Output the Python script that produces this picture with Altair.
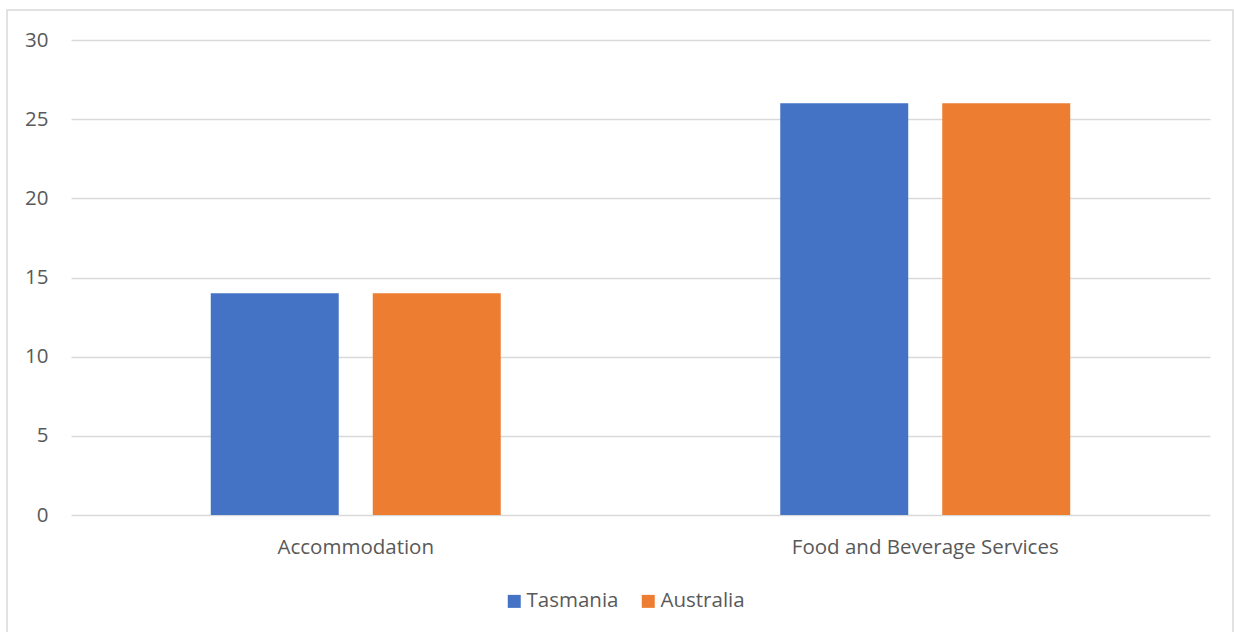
import altair as alt
import pandas as pd

categories = ["Accommodation", "Food and Beverage Services"]
regions = ["Tasmania", "Australia"]
tasmania = [14, 26]
australia = [14, 26]
colors = ["#4472C4", "#ED7D31"]

rows = []
for i, cat in enumerate(categories):
    rows.append({"category": cat, "region": "Tasmania", "value": tasmania[i]})
    rows.append({"category": cat, "region": "Australia", "value": australia[i]})
df = pd.DataFrame(rows)

FONT = "Open Sans"
FS = 20.5
TEXT = "#595959"
GRID = "#D9D9D9"

bars = alt.Chart(df).mark_bar().encode(
    x=alt.X("category:N", sort=categories,
            scale=alt.Scale(paddingInner=0, paddingOuter=0),
            axis=alt.Axis(title=None, labelAngle=0, ticks=False, domain=False,
                          grid=False, labelPadding=22, labelFontSize=FS,
                          labelColor=TEXT, labelFont=FONT, labelLimit=500)),
    xOffset=alt.XOffset("region:N", sort=regions,
                        scale=alt.Scale(paddingInner=0.21, paddingOuter=0.8627)),
    y=alt.Y("value:Q", scale=alt.Scale(domain=[0, 30]),
            axis=alt.Axis(title=None, values=[0, 5, 10, 15, 20, 25, 30],
                          ticks=False, domain=False, gridColor=GRID, gridWidth=1.3,
                          labelPadding=23, labelFontSize=FS, labelColor=TEXT,
                          labelFont=FONT)),
    color=alt.Color("region:N", sort=regions,
                    scale=alt.Scale(domain=regions, range=colors),
                    legend=alt.Legend(title=None, orient="none", direction="horizontal",
                                      legendX=433, legendY=551,
                                      symbolType="square", symbolSize=169,
                                      symbolStrokeWidth=0, labelFontSize=FS,
                                      labelColor=TEXT, labelFont=FONT,
                                      columnPadding=19, labelOffset=2)),
)

# light outer frame around the whole chart
frame = alt.Chart(pd.DataFrame({"k": [0]})).mark_rect(
    fill=None, stroke=GRID, strokeWidth=1.5
).encode(
    x=alt.value(-64), x2=alt.value(1162), y=alt.value(-30), y2=alt.value(620)
)

chart = alt.layer(frame, bars).properties(
    width=1139, height=475,
    background="white",
    autosize=alt.AutoSizeParams(type="none"),
    padding={"left": 71, "top": 40, "right": 24, "bottom": 117},
).configure_view(strokeWidth=0, stroke=None)

chart.save("out.html", embed_options={"renderer": "svg", "actions": False})
